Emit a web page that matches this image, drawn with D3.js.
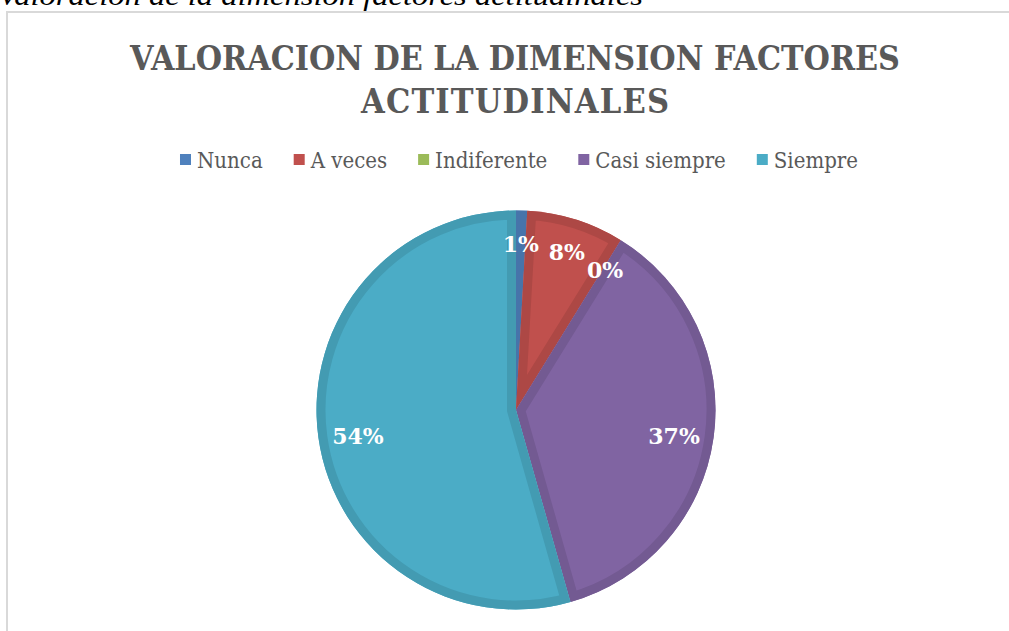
<!DOCTYPE html>
<html>
<head>
<meta charset="utf-8">
<script src="https://cdn.jsdelivr.net/npm/d3@7"></script>
<style>
  html, body { margin: 0; padding: 0; background: #fff; overflow: hidden; }
  svg { display: block; }
</style>
</head>
<body>
<div id="chart-area"></div>
<script>
let categories = ["Nunca", "A veces", "Indiferente", "Casi siempre", "Siempre"];
let values = [0.9, 7.9, 0, 36.8, 54.4];
let percentLabels = ["1%", "8%", "0%", "37%", "54%"];
let colors = ["#4F81BD", "#C0504D", "#9BBB59", "#8064A2", "#4BACC6"];
let titleLines = ["VALORACION DE LA DIMENSION FACTORES", "ACTITUDINALES"];
let caption = "Valoracion de la dimension factores actitudinales";

let width = 1009, height = 631;
let serif = "'DejaVu Serif', serif";
let condensed = "'DejaVu Serif Condensed', 'DejaVu Serif', serif";
let times = "'Liberation Serif', serif";

let svg = d3.select("#chart-area")
            .append("svg")
            .attr("width", width)
            .attr("height", height);

// caption above the chart box (cut by the top edge, as in the source)
svg.append("text")
  .attr("x", -2)
  .attr("y", 5)
  .attr("font-family", times)
  .attr("font-style", "italic")
  .attr("font-size", "28px")
  .attr("textLength", 645)
  .attr("lengthAdjust", "spacingAndGlyphs")
  .attr("fill", "#000")
  .text(caption);

// chart box
svg.append("rect")
  .attr("x", 7)
  .attr("y", 12)
  .attr("width", width + 20)
  .attr("height", height + 20)
  .attr("fill", "#fff")
  .attr("stroke", "#d9d9d9")
  .attr("stroke-width", 2);

// title
let titleWidths = [770, 308];
titleLines.forEach(function(t, i){
  let txt = svg.append("text")
    .attr("x", 515)
    .attr("y", 70 + i * 43)
    .attr("text-anchor", "middle")
    .attr("font-family", condensed)
    .attr("font-stretch", "condensed")
    .attr("font-weight", "bold")
    .attr("font-size", "34px")
    .attr("fill", "#595959")
    .text(t);
  let natural = txt.node().getComputedTextLength();
  txt.attr("textLength", titleWidths[i])
    .attr("lengthAdjust", natural > titleWidths[i] ? "spacingAndGlyphs" : "spacing");
});

// legend
let legend = svg.append("g").attr("class", "legend");
let items = legend.selectAll("g")
  .data(categories)
  .enter()
  .append("g");
items.append("rect")
  .attr("y", 154)
  .attr("width", 11)
  .attr("height", 11)
  .attr("fill", function(d, i){ return colors[i]; });
items.append("text")
  .attr("x", 17)
  .attr("y", 168)
  .attr("font-family", condensed)
  .attr("font-stretch", "condensed")
  .attr("font-size", "22px")
  .attr("fill", "#595959")
  .text(function(d){ return d; });

let xPos = 0, gap = 31, positions = [];
items.each(function(){
  positions.push(xPos);
  xPos += 17 + this.querySelector("text").getComputedTextLength() + gap;
});
let legendWidth = xPos - gap;
let legendStart = 519 - legendWidth / 2;
items.attr("transform", function(d, i){
  return "translate(" + (legendStart + positions[i]) + ",0)";
});

// pie
let cx = 516, cy = 410, radius = 199.5;
let pie = d3.pie().sort(null).value(function(d){ return d; });
let arcs = pie(values);
let arc = d3.arc().innerRadius(0).outerRadius(radius);

let g = svg.append("g")
  .attr("transform", "translate(" + cx + "," + cy + ")");

let defs = svg.append("defs");
defs.selectAll("clipPath")
  .data(arcs)
  .enter()
  .append("clipPath")
  .attr("id", function(d, i){ return "clip-" + i; })
  .append("path")
  .attr("d", arc);

let slices = g.selectAll("g.slice")
  .data(arcs)
  .enter()
  .append("g")
  .attr("class", "slice");

slices.append("path")
  .attr("d", arc)
  .attr("fill", function(d, i){ return colors[i]; });

// darker bevel band along the edges of each slice
slices.filter(function(d){ return d.value > 0; })
  .append("path")
  .attr("d", arc)
  .attr("fill", "none")
  .attr("stroke", function(d){ return d3.rgb(colors[d.index]).darker(0.3); })
  .attr("stroke-width", 18)
  .attr("stroke-linejoin", "miter")
  .attr("clip-path", function(d){ return "url(#clip-" + d.index + ")"; });

// percentage labels
g.selectAll("text.label")
  .data(arcs)
  .enter()
  .append("text")
  .attr("class", "label")
  .attr("transform", function(d){
    let r = d.value < 10 ? radius * 0.85 : radius * 0.8;
    let c = d3.arc().innerRadius(r).outerRadius(r).centroid(d);
    return "translate(" + c[0] + "," + (c[1] + 4) + ")";
  })
  .attr("text-anchor", "middle")
  .attr("dominant-baseline", "central")
  .attr("font-family", serif)
  .attr("font-weight", "bold")
  .attr("font-size", "22px")
  .attr("fill", "#fff")
  .text(function(d, i){ return percentLabels[i]; });
</script>
</body>
</html>
